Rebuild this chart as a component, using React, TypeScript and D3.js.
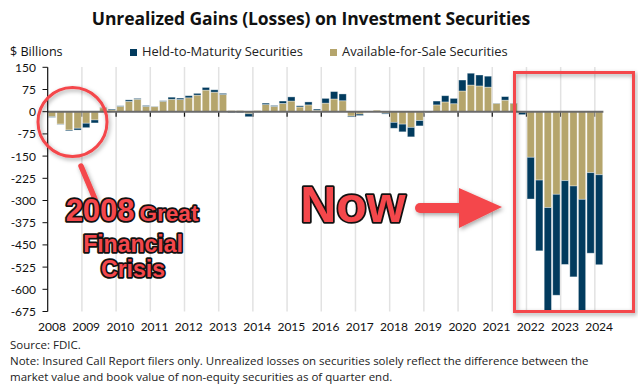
import React from 'react';
import * as d3 from 'd3';

// quarterly data, 2008 Q1 – 2024 Q1, $ billions
const years = d3.range(2008, 2025);
const quarters = years.flatMap(y => [1, 2, 3, 4].map(q => `${y}Q${q}`)).slice(0, 65);

const afs = [
    -17, -42, -62, -56, -39, -28, 13, 6,
    18, 35, 42, 18, 17, 35, 42, 41,
    47, 56, 73, 66, 58, 4, 4, -7,
    4, 24, 18, 28, 36, 16, 23, 5,
    29, 43, 37, -15, -8, 1, 5, -5,
    -36, -42, -53, -30, -3, 23, 33, 27,
    70, 90, 87, 83, 28, 39, 28, -2,
    -154, -231, -324, -279, -233, -251, -296, -206,
    -213,
];

const htm = [
    -2, -1, -3, -6, -15, -10, 1, 3,
    2, 5, 3, 3, 1, 2, 7, 5,
    7, 6, 9, 8, 4, -3, -3, -10,
    -2, 5, 3, 8, 14, 4, 10, 4,
    16, 25, 23, -3, -5, -1, 0, -3,
    -20, -26, -32, -18, -1, 13, 21, 18,
    37, 40, 37, 37, 1, 12, 1, -8,
    -141, -239, -366, -341, -283, -307, -388, -272,
    -304,
];

const yTicks = [150, 75, 0, -75, -150, -225, -300, -375, -450, -525, -600, -675];

const NAVY = '#023b5e';
const TAN = '#b5a56c';
const RED = '#f4474b';
const FONT = '"Open Sans", sans-serif';
const TICKFONT = 'Lato, sans-serif';

const W = 638;
const H = 388;

const App: React.FC = () => {
    const rows = quarters.map((q, i) => ({ q, afs: afs[i], htm: htm[i] }));

    const x = d3.scaleBand<string>()
        .domain(quarters)
        .range([47.7, 603.4])
        .paddingInner(0.15)
        .paddingOuter(0.075);

    const y = d3.scaleLinear()
        .domain([-675, 150])
        .range([311.5, 67.3]);

    const series = d3.stack<any>()
        .keys(['afs', 'htm'])
        .offset(d3.stackOffsetDiverging)(rows);

    const colors: Record<string, string> = { afs: TAN, htm: NAVY };
    const step = x.step();
    const yearStart = (yr: number) => (x(`${yr}Q1`) as number) - step * 0.075;

    const outline = {
        fill: RED,
        stroke: '#111',
        strokeWidth: 3.5,
        strokeLinejoin: 'round' as const,
        paintOrder: 'stroke',
        fontFamily: '"Liberation Sans", Arial, sans-serif',
        fontWeight: 700,
    };

    return (
        <svg width={W} height={H} style={{ position: 'absolute', left: 0, top: 0 }}>
            <defs>
                <clipPath id="plot">
                    <rect x={47.7} y={60} width={560} height={251.5} />
                </clipPath>
                <filter id="shadow" x="-20%" y="-20%" width="140%" height="140%">
                    <feDropShadow dx="1.5" dy="2" stdDeviation="2" floodColor="#000" floodOpacity="0.35" />
                </filter>
            </defs>
            <rect width={W} height={H} fill="#fff" />

            {/* title + legend */}
            <text x={311} y={25} textAnchor="middle" fontFamily={FONT} fontWeight={700} fontSize={17.5}
                letterSpacing={-0.1} fill="#111">
                Unrealized Gains (Losses) on Investment Securities
            </text>
            <text x={10} y={56} fontFamily={FONT} fontSize={12.6} fill="#111">$ Billions</text>
            <rect x={130} y={49} width={7} height={7} fill={NAVY} />
            <text x={142} y={56} fontFamily={FONT} fontSize={12.9} fill="#222">Held-to-Maturity Securities</text>
            <rect x={330} y={49} width={7} height={7} fill={TAN} />
            <text x={342} y={56} fontFamily={FONT} fontSize={12.9} fill="#222">Available-for-Sale Securities</text>

            {/* year gridlines */}
            {years.slice(1).map(yr => (
                <line key={yr} x1={yearStart(yr)} x2={yearStart(yr)} y1={67} y2={311.5}
                    stroke="#e2e2e2" strokeWidth={1.5} />
            ))}
            {years.slice(1).map(yr => (
                <line key={'t' + yr} x1={yearStart(yr)} x2={yearStart(yr)} y1={y(0)} y2={y(0) + 5}
                    stroke="#111" strokeWidth={1.2} />
            ))}

            {/* bars */}
            <g clipPath="url(#plot)">
                {series.map(s => (
                    <g key={s.key} fill={colors[s.key]}>
                        {s.map((d, i) => {
                            const y0 = y(d[0]);
                            const y1 = y(d[1]);
                            return (
                                <rect key={i} x={x(quarters[i])} width={x.bandwidth()}
                                    y={Math.min(y0, y1)} height={Math.abs(y1 - y0)}
                                    stroke="#ffffff" strokeOpacity={0.45} strokeWidth={0.8} />
                            );
                        })}
                    </g>
                ))}
            </g>

            {/* zero line */}
            <line x1={47.7} x2={603.4} y1={y(0)} y2={y(0)} stroke="#6b6b6b" strokeWidth={2} />

            {/* y axis */}
            <line x1={47.7} x2={47.7} y1={67.3} y2={311.5} stroke="#111" strokeWidth={1.2} />
            {yTicks.map(t => (
                <g key={t}>
                    <line x1={42.5} x2={47.7} y1={y(t)} y2={y(t)} stroke="#111" strokeWidth={1} />
                    <text x={36} y={y(t) + 4.5} textAnchor="end" fontFamily={TICKFONT} fontSize={12} fill="#111">{t}</text>
                </g>
            ))}

            {/* x labels */}
            {years.map(yr => (
                <text key={yr} x={(x(`${yr}Q1`) as number) + x.bandwidth() / 2} y={331}
                    textAnchor="middle" fontFamily={TICKFONT} fontSize={12} fill="#111">{yr}</text>
            ))}

            {/* notes */}
            <text x={10} y={349} fontFamily={FONT} fontSize={11.5} fill="#222">Source: FDIC.</text>
            <text x={10} y={365} fontFamily={FONT} fontSize={11.5} fill="#222">
                Note: Insured Call Report filers only. Unrealized losses on securities solely reflect the difference between the
            </text>
            <text x={10} y={381} fontFamily={FONT} fontSize={11.5} fill="#222">
                market value and book value of non-equity securities as of quarter end.
            </text>

            {/* annotations */}
            <g filter="url(#shadow)">
                <circle cx={72.5} cy={122} r={34.5} fill="none" stroke={RED} strokeWidth={3} />
                <line x1={81} x2={95} y1={166} y2={199} stroke={RED} strokeWidth={5.5} strokeLinecap="round" />
                <rect x={514.5} y={72.5} width={119} height={239} fill="none" stroke={RED} strokeWidth={3} />
                <line x1={420} x2={462} y1={208} y2={208} stroke={RED} strokeWidth={10} strokeLinecap="round" />
                <path d="M459,188 L502,207 L459,228 Z" fill={RED} />
            </g>

            <text x={132} y={221} textAnchor="middle" style={outline}>
                <tspan fontSize={31}>2008</tspan>
                <tspan fontSize={22.5} dx={5}>Great</tspan>
            </text>
            <text x={133} y={252} textAnchor="middle" fontSize={23} style={outline}>Financial</text>
            <text x={133} y={277} textAnchor="middle" fontSize={23} style={outline}>Crisis</text>
            <text x={353} y={222} textAnchor="middle" fontSize={50} style={outline}>Now</text>
        </svg>
    );
};

export default App;
